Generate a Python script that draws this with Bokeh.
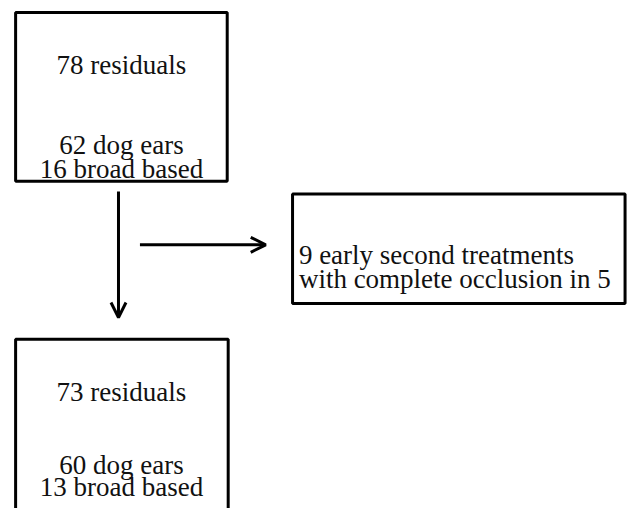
from bokeh.plotting import figure
from bokeh.models import Range1d, Arrow, OpenHead, ColumnDataSource
from bokeh.core.properties import value
from bokeh.embed import file_html
from bokeh.resources import INLINE

# ---- data ----
stages = ["before", "after"]
residuals = [78, 73]
dog_ears = [62, 60]
broad_based = [16, 13]
early_second_treatments = 9
complete_occlusion = 5

# ---- layout: data coordinates follow the reference's 643x524 pixel grid ----
W, H = 627, 508
p = figure(width=W, height=H, output_backend="svg", toolbar_location=None,
           x_range=Range1d(0, 643), y_range=Range1d(524, 0),
           min_border=0, outline_line_color=None)
p.axis.visible = False
p.grid.visible = False
p.background_fill_color = "white"
p.border_fill_color = "white"

FONT = value("Liberation Serif")
FS = "27px"
TXT_COLOR = "#111111"
BASE_FIX = -10  # renderer places alphabetic baseline lower than anchor

# boxes: left, right, top, bottom
boxes = dict(
    left=[15.5, 299.5, 15.5],
    right=[232.5, 640.5, 233.5],
    top=[12.5, 199.5, 349.5],
    bottom=[186.5, 312.5, 540],
)
p.quad(left="left", right="right", top="top", bottom="bottom",
       source=ColumnDataSource(boxes), fill_color=None,
       line_color="black", line_width=3)

# centered texts in the stage boxes (baselines)
box_cx = [124, 124]
baselines = [[77, 159, 184], [414, 489, 512]]
tx, ty, tt = [], [], []
for i in range(len(stages)):
    lines = [f"{residuals[i]} residuals", f"{dog_ears[i]} dog ears",
             f"{broad_based[i]} broad based"]
    for b, s in zip(baselines[i], lines):
        tx.append(box_cx[i])
        ty.append(b + BASE_FIX)
        tt.append(s)
p.text(x=tx, y=ty, text=tt, text_font=FONT, text_font_size=FS,
       text_align="center", text_baseline="alphabetic", text_color=TXT_COLOR)

# side box text
side_lines = [f"{early_second_treatments} early second treatments",
              f"with complete occlusion in {complete_occlusion}"]
p.text(x=[306, 306], y=[272 + BASE_FIX, 297 + BASE_FIX], text=side_lines,
       text_font=FONT, text_font_size=FS, text_align="left",
       text_baseline="alphabetic", text_color=TXT_COLOR)

# arrows
p.add_layout(Arrow(end=OpenHead(size=15, line_width=3, line_color="black"),
                   x_start=121, y_start=197, x_end=121, y_end=327,
                   line_width=3, line_color="black"))
p.add_layout(Arrow(end=OpenHead(size=15, line_width=3, line_color="black"),
                   x_start=143, y_start=252, x_end=272, y_end=252,
                   line_width=3, line_color="black"))

open("out.html", "w").write(file_html(p, INLINE))
